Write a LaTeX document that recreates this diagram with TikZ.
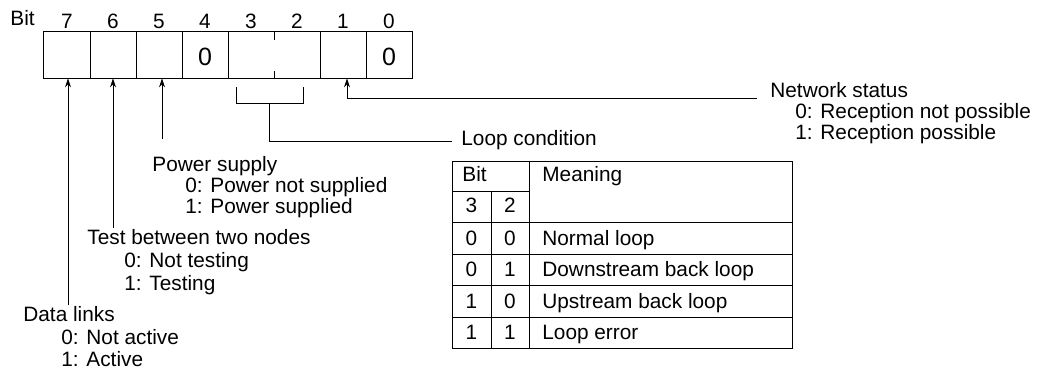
\documentclass[tikz,border=0pt]{standalone}
\usepackage{fontspec}
\setmainfont{Liberation Sans}
\usetikzlibrary{arrows.meta}

\begin{document}
\begin{tikzpicture}[x=0.5pt, y=-0.5pt, >={Stealth[length=4.5pt, width=3pt]},
    font=\fontsize{10.4}{12}\selectfont,
    cellbox/.style={minimum width=23pt, minimum height=23pt, inner sep=0pt},
    cellval/.style={inner sep=0pt, font=\fontsize{12.5}{14}\selectfont},
    frame/.style={line width=0.6pt},
    link/.style={line width=0.5pt},
    lbl/.style={inner sep=0pt, anchor=base west},
    tcell/.style={inner sep=0pt, text height=7.4pt, text depth=0pt}]
    \useasboundingbox (0,0) rectangle (1048,372);

    % --- Register (bits 7..0) ---
    \node[lbl] (bitlbl) at (10,25) {Bit};
    \foreach \b/\v [count=\i from 0] in {7/{},6/{},5/{},4/0,3/{},2/{},1/{},0/0} {
        \node[cellbox] (b\b) at (67+46*\i,55) {};
        \node[cellval] (v\b) at (67+46*\i,57) {\v};
        \node[tcell] (n\b) at (67+46*\i,21) {\b};
    }
    \draw[frame] (b7.north west) rectangle (b0.south east);
    \foreach \b in {7,6,5,4,2,1}
        \draw[frame] (b\b.north east) -- (b\b.south east);
    % bits 3 and 2 share one field: only short ticks between them
    \draw[frame] (b3.north east) -- ++(0,8) (b3.south east) -- ++(0,-7);

    % --- Network status (bit 1) ---
    \node[lbl] (net) at (770,97) {Network status};
    \node[lbl] (net0) at (795,118) {0: Reception not possible};
    \node[lbl] (net1) at (795,139) {1: Reception possible};
    \coordinate (net-end) at (757,98);
    \draw[link, ->] (net-end) -| ([xshift=2pt]b1.south);

    % --- Loop condition (bits 3, 2) ---
    \node[lbl] (loop) at (461,145) {Loop condition};
    \coordinate (brk-l) at (236,87);
    \coordinate (brk-r) at (303,87);
    \coordinate (brk-m) at (269,103);
    \coordinate (loop-end) at (452,141);
    \draw[link] (brk-l) |- (brk-m) -| (brk-r);
    \draw[link] (brk-m) |- (loop-end);

    % --- Power supply (bit 5) ---
    \node[lbl] (pwr) at (152,171) {Power supply};
    \node[lbl] (pwr0) at (185,192) {0: Power not supplied};
    \node[lbl] (pwr1) at (185,213) {1: Power supplied};
    \coordinate (pwr-end) at (162,139);
    \draw[link, ->] (pwr-end) -- (pwr-end |- b5.south);

    % --- Test between two nodes (bit 6) ---
    \node[lbl] (test) at (87,244) {Test between two nodes};
    \node[lbl] (test0) at (124,267) {0: Not testing};
    \node[lbl] (test1) at (124,290) {1: Testing};
    \coordinate (test-end) at (113,228);
    \draw[link, ->] (test-end) -- (test-end |- b6.south);

    % --- Data links (bit 7) ---
    \node[lbl] (data) at (23,321) {Data links};
    \node[lbl] (data0) at (61,344) {0: Not active};
    \node[lbl] (data1) at (61,366) {1: Active};
    \coordinate (data-end) at (68,305);
    \draw[link, ->] (data-end) -- (data-end |- b7.south);

    % --- Table of loop conditions ---
    \draw[link] (452,161) rectangle (792,348);
    \draw[link] (452,191) -- (529.5,191);
    \foreach \y in {222,254,285,317}
        \draw[link] (452,\y) -- (792,\y);
    \draw[link] (491,191) -- (491,348);
    \draw[link] (529.5,161) -- (529.5,348);
    \node[tcell, anchor=west] (th-bit) at (462,174) {Bit};
    \node[tcell, anchor=west] (th-mean) at (542,174) {Meaning};
    \node[tcell] (th-3) at (471.5,205) {3};
    \node[tcell] (th-2) at (510,205) {2};
    \foreach \p/\q/\m/\yy in {0/0/Normal loop/238, 0/1/Downstream back loop/269.5,
                             1/0/Upstream back loop/301, 1/1/Loop error/332.5} {
        \node[tcell] at (471.5,\yy) {\p};
        \node[tcell] at (510,\yy) {\q};
        \node[tcell, anchor=west] at (542,\yy) {\m};
    }
\end{tikzpicture}
\end{document}
